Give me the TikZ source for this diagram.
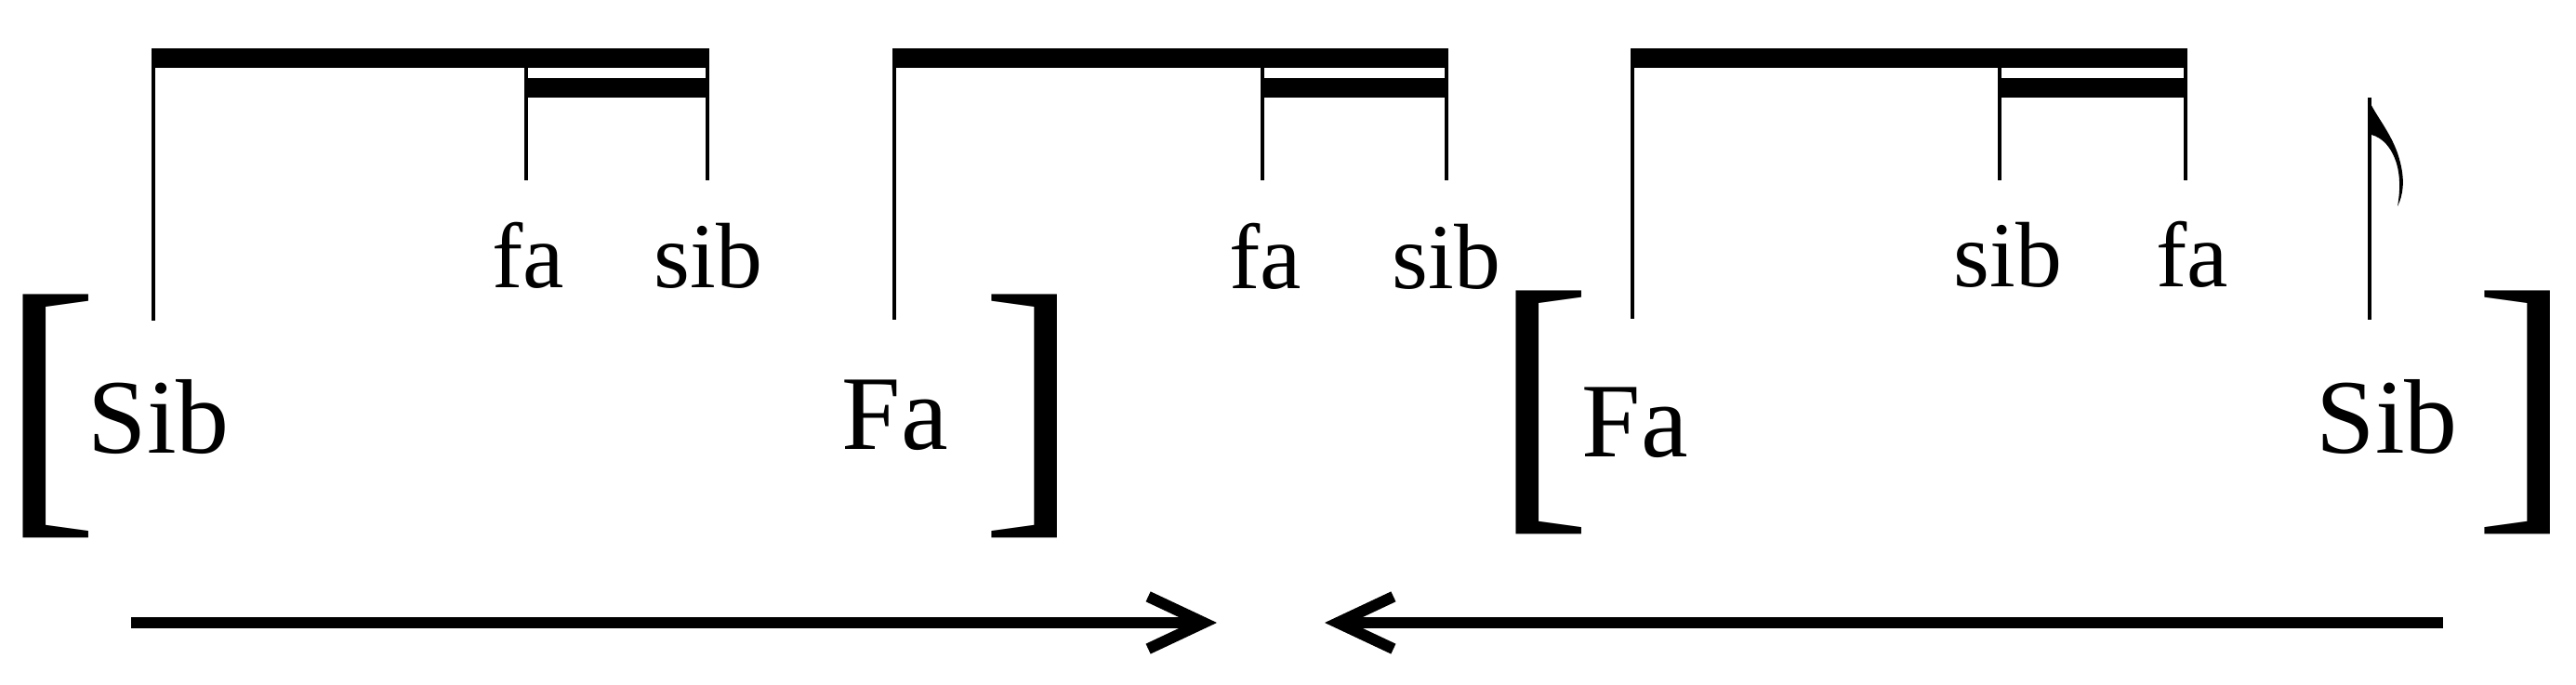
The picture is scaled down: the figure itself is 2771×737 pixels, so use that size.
\documentclass[tikz,border=0pt]{standalone}
\usepackage{fontspec}
\setmainfont{Liberation Serif}
\usetikzlibrary{arrows, arrows.meta}

\begin{document}
\begin{tikzpicture}[x=0.01cm, y=-0.01cm,
    stem/.style={line width=0.4mm},
    beam/.style={fill=black},
    big/.style={inner sep=0pt, anchor=base west, font=\fontsize{32.4}{36}\selectfont},
    small/.style={inner sep=0pt, anchor=base west, font=\fontsize{28.4}{32}\selectfont},
    brak/.style={inner sep=0pt, anchor=base west, font=\fontsize{90}{96}\selectfont},
    arr/.style={line width=1.2mm, -{Straight Barb[length=17pt, width=16pt]}}]
      \useasboundingbox (0,0) rectangle (2771,737);

      % brackets and big names
      \node[brak] (lb1) at (1,537) {[};
      \node[brak] (rb1) at (1055,537) {]};
      \node[brak] (lb2) at (1607,533) {[};
      \node[brak] (rb2) at (2661,533) {]};
      \node[big] (sib1) at (94,488) {Sib};
      \node[big] (fa1) at (905,484) {Fa};
      \node[big] (fa2) at (1701,492) {Fa};
      \node[big] (sib2) at (2491,488) {Sib};

      % first group
      \fill[beam] (163,52) rectangle (763,73);
      \fill[beam] (564,84) rectangle (763,105);
      \draw[stem] (165,52) -- (165,345);
      \draw[stem] (566,52) -- (566,194);
      \draw[stem] (761,52) -- (761,194);
      \node[small] (fa3) at (529,310) {fa};
      \node[small] (sib3) at (703,310) {sib};

      % second group
      \fill[beam] (960,52) rectangle (1558,73);
      \fill[beam] (1356,84) rectangle (1558,105);
      \draw[stem] (962,52) -- (962,344);
      \draw[stem] (1358,52) -- (1358,194);
      \draw[stem] (1556,52) -- (1556,194);
      \node[small] (fa4) at (1322,311) {fa};
      \node[small] (sib4) at (1497,311) {sib};

      % third group
      \fill[beam] (1754,52) rectangle (2353,73);
      \fill[beam] (2149,84) rectangle (2353,105);
      \draw[stem] (1756,52) -- (1756,343);
      \draw[stem] (2151,52) -- (2151,194);
      \draw[stem] (2351,52) -- (2351,194);
      \node[small] (sib5) at (2101,309) {sib};
      \node[small] (fa5) at (2319,309) {fa};

      % eighth note
      \draw[stem] (2549,105) -- (2549,344);
      \fill (2547,105) .. controls (2555,125) and (2575,145) .. (2582,175)
        .. controls (2587,195) and (2585,210) .. (2579,222)
        .. controls (2582,205) and (2582,190) .. (2578,176)
        .. controls (2572,157) and (2562,148) .. (2551,145) -- cycle;

      % arrows
      \coordinate (a1) at (141,670);
      \coordinate (m1) at (1309,670);
      \coordinate (a2) at (2628,670);
      \coordinate (m2) at (1425,670);
      \draw[arr] (a1) -- (m1);
      \draw[arr] (a2) -- (m2);
    \end{tikzpicture}
\end{document}
